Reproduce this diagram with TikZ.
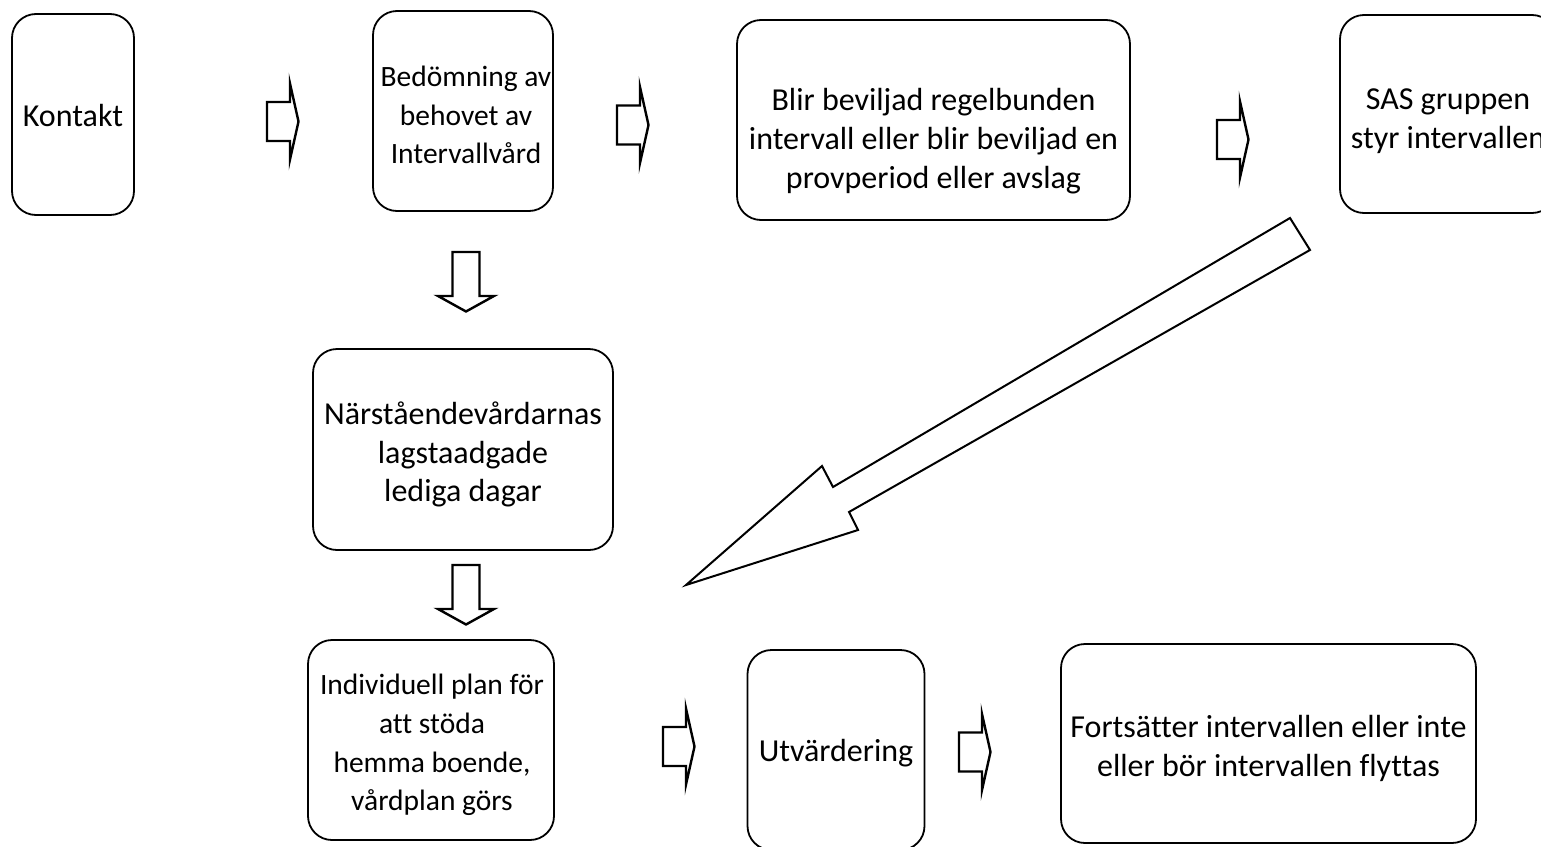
\documentclass[tikz,border=0pt]{standalone}
\usepackage{fontspec}
\setmainfont{Carlito}[Ligatures=NoCommon]
\usepackage{tikz}

\newcommand{\rightblock}[2]{%
  \draw[block arrow] (#1,#2-19.5) -- ++(23,0) -- ++(0,-18.5) -- ++(8.5,38) -- ++(-8.5,38) -- ++(0,-18.5) -- ++(-23,0) -- cycle;}
\newcommand{\downblock}[2]{%
  \draw[block arrow] (#1-13.5,#2) -- ++(27,0) -- ++(0,44) -- ++(14.5,0) -- ++(-28,15.5) -- ++(-28,-15.5) -- ++(14.5,0) -- cycle;}

\begin{document}
\begin{tikzpicture}[x=1pt,y=-1pt,
			process box/.style={draw,line width=1.8pt,rounded corners=24pt,inner sep=0pt},
			box text/.style={align=center,inner sep=0pt,font=\fontsize{32}{38.7}\selectfont},
			small text/.style={box text,font=\fontsize{29.5}{38.6}\selectfont},
			block arrow/.style={draw,line width=2.4pt,line join=miter,fill=white}
			]

			\useasboundingbox (0,0) rectangle (1541,846);

			% top row
			\node[process box,minimum width=122pt,minimum height=201pt] at (73,114.5) (kontakt) {};
			\node[box text] at ([yshift=-1pt]kontakt.center) (kontakt text) {Kontakt};
			\node[process box,minimum width=180pt,minimum height=200pt] at (463,111) (bedomning) {};
			\node[small text] at ([yshift=-4pt,xshift=3pt]bedomning.center) (bedomning text) {Bedömning av\\behovet av\\Intervallvård};
			\node[process box,minimum width=393pt,minimum height=200pt] at (933.5,120) (beslut) {};
			\node[box text] at ([yshift=-21pt]beslut.center) (beslut text) {Blir beviljad regelbunden\\intervall eller blir beviljad en\\provperiod eller avslag};
			\node[process box,minimum width=216pt,minimum height=198pt] at (1448,114) (sas) {};
			\node[box text] at ([yshift=-7pt]sas.center) (sas text) {SAS gruppen\\styr intervallen};

			% middle
			\node[process box,minimum width=300pt,minimum height=201pt] at (463,449.5) (lediga) {};
			\node[box text] at ([yshift=-5pt]lediga.center) (lediga text) {Närståendevårdarnas\\lagstaadgade\\lediga dagar};

			% bottom row
			\node[process box,minimum width=246pt,minimum height=200pt] at (431,740) (plan) {};
			\node[small text] at ([yshift=-5pt,xshift=1pt]plan.center) (plan text) {Individuell plan för\\att stöda\\hemma boende,\\vårdplan görs};
			\node[process box,minimum width=177pt,minimum height=200pt] at (836,750) (utvardering) {};
			\node[box text] at ([yshift=-3pt]utvardering.center) (utvardering text) {Utvärdering};
			\node[process box,minimum width=415pt,minimum height=199pt] at (1268.5,743.5) (fortsatter) {};
			\node[box text] at ([yshift=-5pt]fortsatter.center) (fortsatter text) {Fortsätter intervallen eller inte\\eller bör intervallen flyttas};

			\rightblock{267}{121.5}
			\rightblock{617}{125}
			\rightblock{1217}{139.5}
			\rightblock{663}{746.5}
			\rightblock{959}{752}

			\downblock{466}{252}
			\downblock{466}{565}

			% long arrow back down
			\draw[block arrow,line width=2pt] (1290,218) -- (833,487) -- (822,466) -- (686,585)
				-- (858,530) -- (849,512) -- (1310,250) -- cycle;
		\end{tikzpicture}
\end{document}
